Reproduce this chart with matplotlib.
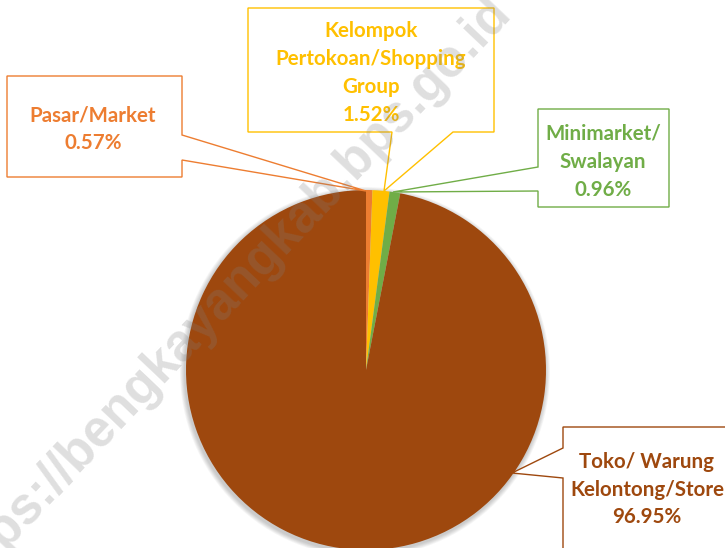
import matplotlib.pyplot as plt
from matplotlib.patches import Polygon, Circle

plt.rcParams['font.family'] = ['Lato', 'DejaVu Sans']

# data
labels = ["Pasar/Market", "Kelompok Pertokoan/Shopping Group",
          "Minimarket/ Swalayan", "Toko/ Warung Kelontong/Store"]
shares = [0.57, 1.52, 0.96, 96.95]
colors = ["#ED7D31", "#FFC000", "#70AD47", "#9E480E"]
label_lines = [
    ["Pasar/Market"],
    ["Kelompok", "Pertokoan/Shopping", "Group"],
    ["Minimarket/", "Swalayan"],
    ["Toko/ Warung", "Kelontong/Store"],
]

W, H = 725, 548
fig = plt.figure(figsize=(W / 100, H / 100), dpi=100)
ax = fig.add_axes([0, 0, 1, 1])

cx, cy, r = 366, 370, 180

# soft shadow behind the pie
for i in range(6):
    ax.add_patch(Circle((cx - 1, cy + 2), r + 1 + i * 0.8, color='black',
                        alpha=0.035, lw=0, zorder=0))

ax.pie(shares, colors=colors, center=(cx, cy), radius=r, startangle=-90,
       counterclock=True, wedgeprops=dict(linewidth=0), frame=True)
ax.set_xlim(0, W)
ax.set_ylim(H, 0)
ax.set_aspect('equal')
ax.axis('off')

# callout boxes (box outline with pointer to slice)
callouts = [
    [(7, 76), (182, 76), (182, 135), (366, 191), (182, 160), (182, 177), (7, 177)],
    [(248, 8), (494, 8), (494, 132), (453, 132), (384, 191), (392, 132), (248, 132)],
    [(538, 109), (669, 109), (669, 207), (538, 207), (538, 191), (393, 192), (538, 167)],
    [(563, 427), (740, 427), (740, 560), (563, 560), (563, 478), (512, 473), (563, 448)],
]
text_pos = [
    (93, [122, 149]),
    (371, [37, 65, 93, 121]),
    (603, [140, 168, 196]),
    (647, [468, 496, 523]),
]

for poly, lines, share, col, (tx, ys) in zip(callouts, label_lines, shares, colors, text_pos):
    ax.add_patch(Polygon(poly, closed=True, facecolor='white', edgecolor=col,
                         lw=1.0, zorder=3))
    for line, y in zip(lines + [f"{share:.2f}%"], ys):
        ax.text(tx, y, line, color=col, fontsize=14.8, fontweight='bold',
                ha='center', va='baseline', zorder=4)

# watermark
ax.text(226, 296, "https://bengkayangkab.bps.go.id", rotation=46.5,
        fontsize=37, fontweight='bold', family=['Liberation Sans'],
        color='#808080', alpha=0.25, ha='center', va='center',
        rotation_mode='anchor', zorder=5)

fig.savefig("out.png", dpi=100)
